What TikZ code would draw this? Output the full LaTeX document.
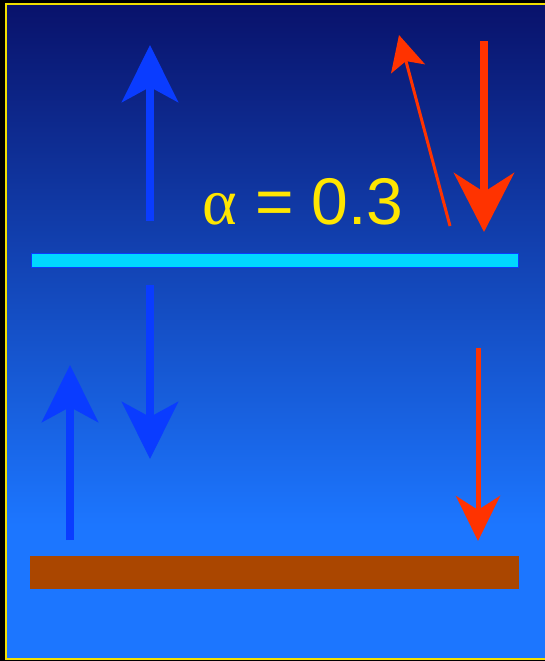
\documentclass[tikz,border=0pt]{standalone}
\usepackage{fontspec}
\setmainfont{Liberation Sans}
\newfontfamily\symbfont{Liberation Serif}
\usetikzlibrary{arrows.meta}
\definecolor{skytop}{HTML}{09126B}
\definecolor{skylow}{HTML}{1C76FF}
\definecolor{rim}{HTML}{F2E000}
\definecolor{beam}{HTML}{0A3CFF}
\definecolor{flux}{HTML}{FF3300}
\definecolor{film}{HTML}{00D8FF}
\definecolor{soil}{HTML}{AA4600}
\definecolor{coeff}{HTML}{FFE600}

\begin{document}
\begin{tikzpicture}[x=1pt, y=-1pt,
          bar/.style={rectangle, inner sep=0pt, outer sep=0pt},
          b/.style={beam, line width=8pt, -{Stealth[length=57pt, width=56pt, inset=15pt]}},
          r/.style={flux, line width=8pt, -{Stealth[length=59pt, width=60pt, inset=19pt]}}]
        \useasboundingbox (0,0) rectangle (545,661);
        \fill[black] (0,0) rectangle (545,661);
        \fill[skylow] (6,4) rectangle (545,659);
        \shade[top color=skytop, bottom color=skylow] (6,4) rectangle (545,525);
        \draw[rim, line width=2pt] (547,4.5) -- (6,4.5) -- (6,658.5) -- (547,658.5);
        % the two layers
        \node[bar, fill=film, draw=beam, line width=1.5pt, minimum width=487pt, minimum height=14pt] (film) at (275,260.5) {};
        \node[bar, fill=soil, minimum width=489pt, minimum height=33pt] (soil) at (274.5,572.5) {};
        \node[coeff, anchor=base west, inner sep=0pt, font=\fontsize{66}{70}\selectfont] (alpha) at (202,224) {{\symbfont α} = 0.3};
        % blue arrows
        \foreach \n/\x/\a/\b in {bu/150/221/45, bd/150/285/459, bl/70/540/365}{
          \coordinate (\n0) at (\x,\a);
          \coordinate (\n1) at (\x,\b);
          \draw[b] (\n0) -- (\n1);}
        % red arrows
        \coordinate (rd0) at (484,41);
        \coordinate (rd1) at (484,232);
        \draw[r] (rd0) -- (rd1);
        \coordinate (rs0) at (450,226);
        \coordinate (rs1) at (399,35);
        \draw[flux, line width=3pt, -{Stealth[length=35pt, width=35pt, inset=8pt]}] (rs0) -- (rs1);
        \coordinate (rl0) at (478,348);
        \coordinate (rl1) at (478,541);
        \draw[flux, line width=5pt, -{Stealth[length=45pt, width=44pt, inset=14pt]}] (rl0) -- (rl1);
      \end{tikzpicture}
\end{document}
